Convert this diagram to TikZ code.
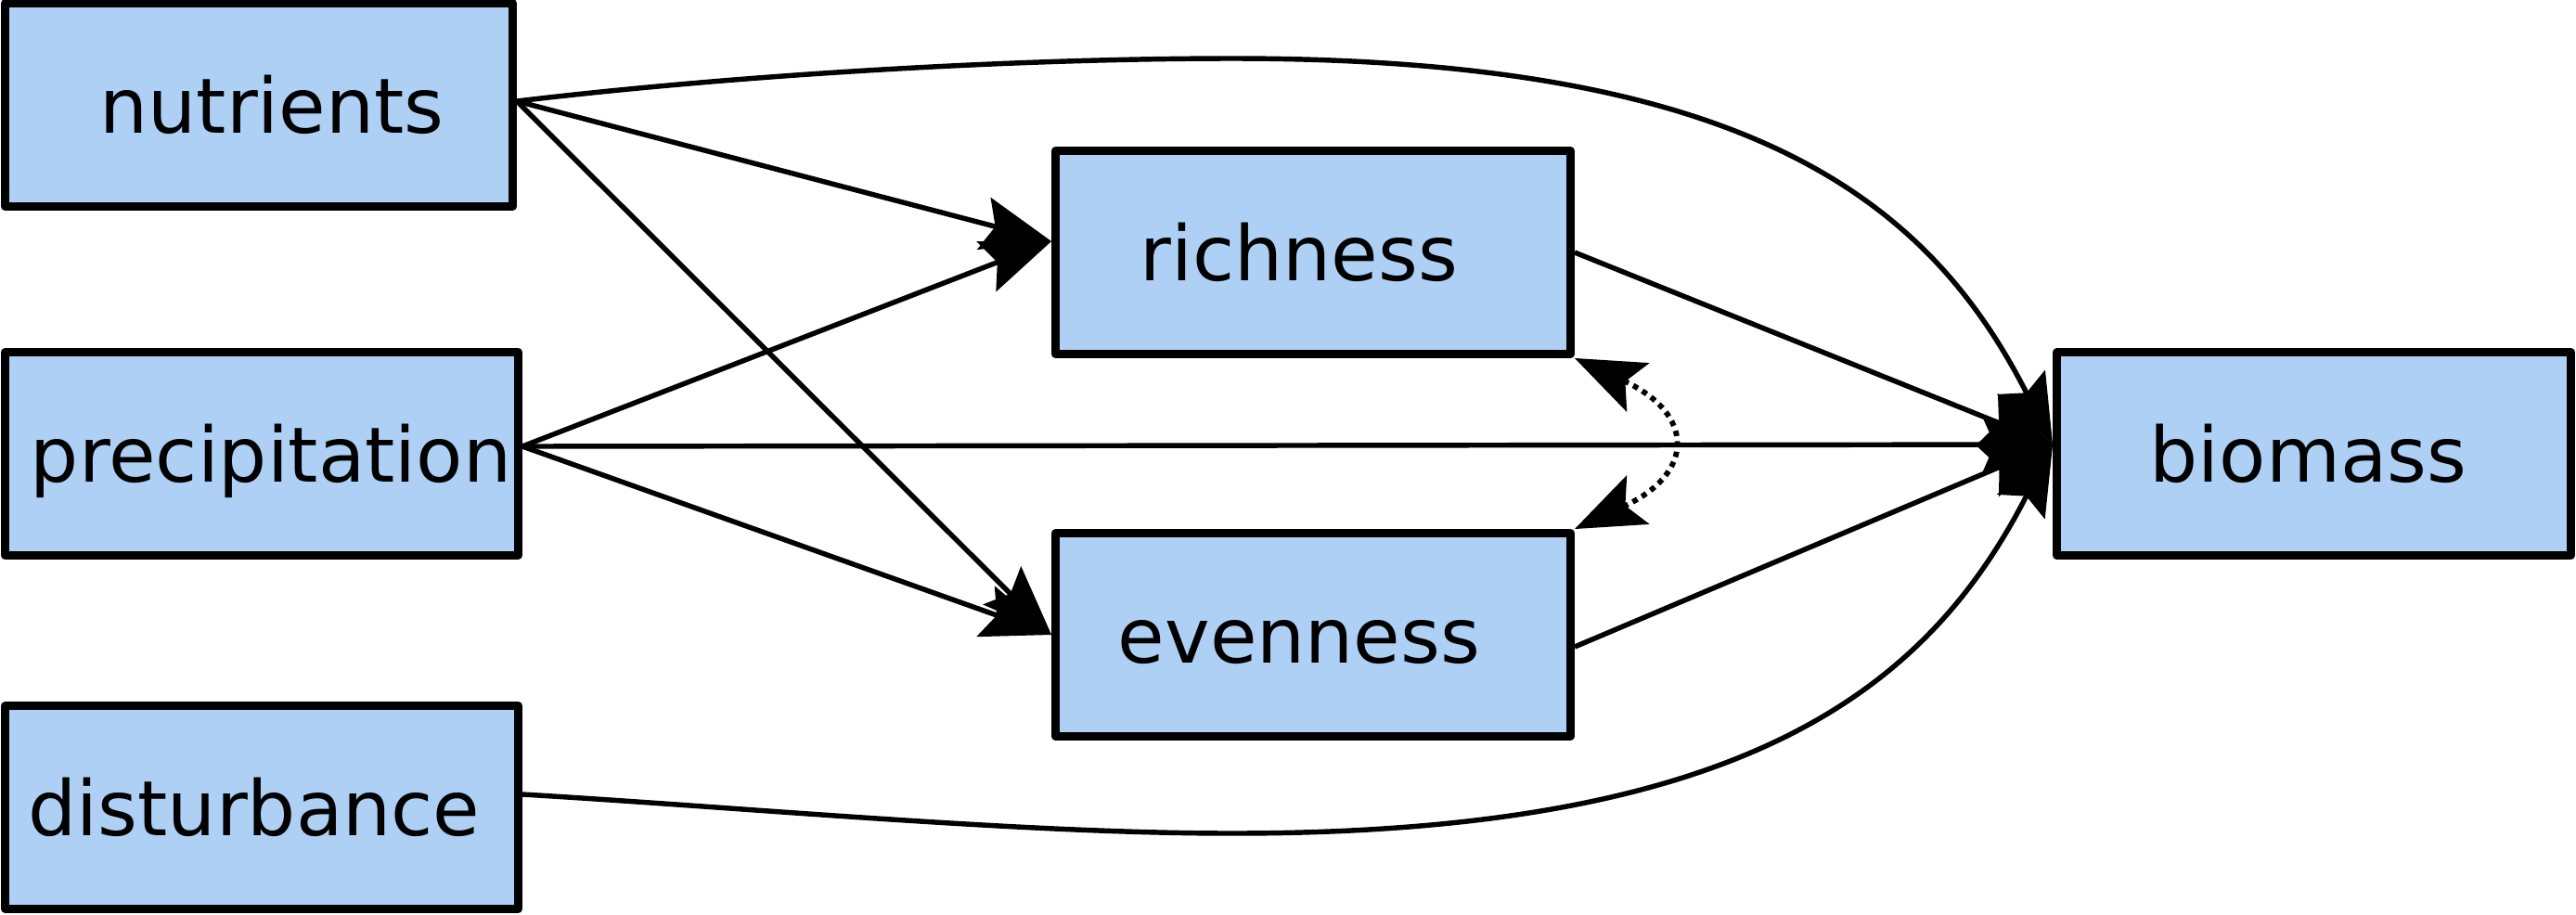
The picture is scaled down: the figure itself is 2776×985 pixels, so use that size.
\documentclass[tikz,border=0pt]{standalone}
\usepackage{fontspec}
\setmainfont{DejaVu Sans}
\usetikzlibrary{arrows.meta}
\definecolor{boxfill}{RGB}{173,208,244}
\tikzset{
  box/.style={draw=black, fill=boxfill, line width=5.1pt, line join=round,
    minimum height=4.38cm, inner sep=0pt},
  txt/.style={font=\fontsize{46.8}{56}\selectfont, text height=34.5pt, text depth=0pt, inner sep=0pt},
  conn/.style={line width=3.1pt, -{Stealth[length=1.5cm,width=1.15cm,inset=0.25cm]}},
  dotconn/.style={line width=3.3pt, dash pattern=on 3.3pt off 3.2pt,
    {Stealth[length=1.5cm,width=1.15cm,inset=0.3cm]}-{Stealth[length=1.5cm,width=1.15cm,inset=0.3cm]}}
}
\begin{document}
\begin{tikzpicture}[x=0.02cm, y=-0.02cm]
\useasboundingbox (0,0) rectangle (2776,985);

\node[box, minimum width=10.94cm, label={[txt, xshift=0.28cm]center:nutrients}] (nutrients) at (279,113) {};
\node[box, minimum width=11.06cm, label={[txt, xshift=0.2cm]center:precipitation}] (precipitation) at (282,489) {};
\node[box, minimum width=11.06cm, label={[txt, xshift=-0.16cm]center:disturbance}] (disturbance) at (282,870) {};
\node[box, minimum width=11.10cm, label={[txt, xshift=-0.3cm]center:richness}] (richness) at (1415,272) {};
\node[box, minimum width=11.10cm, label={[txt, xshift=-0.3cm]center:evenness}] (evenness) at (1415,684) {};
\node[box, minimum width=11.08cm, label={[txt, xshift=-0.12cm]center:biomass}] (biomass) at (2493.5,489) {};

\coordinate (nS) at ([yshift=0.08cm]nutrients.east);
\coordinate (pS) at ([yshift=0.16cm]precipitation.east);
\coordinate (dS) at ([yshift=0.28cm]disturbance.east);
\coordinate (rT) at ([yshift=0.24cm]richness.west);
\coordinate (bT) at ([yshift=0.2cm]biomass.west);
\coordinate (eS) at ([yshift=-0.26cm]evenness.east);

\draw[conn] (nS) -- (rT);
\draw[conn] (nS) -- (evenness.west);
\draw[conn] (pS) -- (rT);
\draw[conn] (pS) -- (evenness.west);
\draw[conn] (pS) -- (bT);
\draw[conn] (richness.east) -- (bT);
\draw[conn] (eS) -- (bT);
\draw[conn] (nS) .. controls (800,80) and (1100,63) .. (1328,63)
                  .. controls (1878,63) and (2076,211) .. (bT);
\draw[conn] (dS) .. controls (800,870) and (1100,898) .. (1328,898)
                  .. controls (1878,898) and (2076,745) .. (bT);
\draw[dotconn] (richness.south east) .. controls +(130,60) and +(130,-60) .. (evenness.north east);
\end{tikzpicture}
\end{document}
